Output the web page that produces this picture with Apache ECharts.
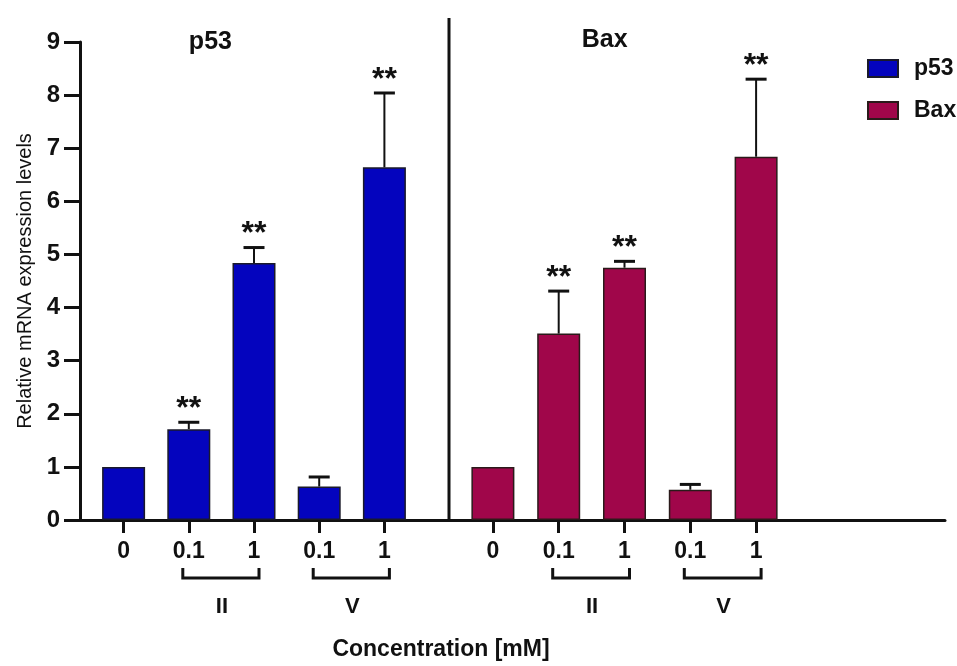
<!DOCTYPE html>
<html>
<head>
<meta charset="utf-8">
<script src="https://cdn.jsdelivr.net/npm/echarts@6/dist/echarts.min.js"></script>
<style>
  html, body { margin: 0; padding: 0; background: #ffffff; }
  #chart { width: 957px; height: 666px; }
</style>
</head>
<body>
<div id="chart"></div>
<script>
// ---- data ----
const categories = ['0', '0.1', '1', '0.1', '1'];
const p53Mean = [1.00, 1.71, 4.84, 0.63, 6.64];
const p53Err  = [0.00, 0.13, 0.29, 0.18, 1.40];
const p53Sig  = ['', '**', '**', '', '**'];
const baxMean = [1.00, 3.51, 4.75, 0.57, 6.84];
const baxErr  = [0.00, 0.80, 0.12, 0.10, 1.46];
const baxSig  = ['', '**', '**', '', '**'];
const groups  = [
  { from: 1, to: 2, label: 'II' },
  { from: 3, to: 4, label: 'V' }
];
const panelTitles = ['p53', 'Bax'];
const yTitle = 'Relative mRNA expression levels';
const xTitle = 'Concentration [mM]';
const yMin = 0, yMax = 9, yStep = 1;

const FONT = 'Liberation Sans, Arial, Helvetica, sans-serif';
const BLUE = '#0404BE';
const RED = '#A0064A';
const INK = '#111111';

const chart = echarts.init(document.getElementById('chart'), null, { renderer: 'canvas' });

function errSeries(name, axisIdx, mean, err, sig) {
  return {
    name: name,
    type: 'custom',
    xAxisIndex: axisIdx,
    yAxisIndex: axisIdx,
    z: 5,
    encode: { x: 0, y: 1 },
    data: mean.map((m, i) => [i, m, err[i]]),
    renderItem: function (params, api) {
      const i = api.value(0), m = api.value(1), e = api.value(2);
      const base = api.coord([i, m]);
      const top = api.coord([i, m + e]);
      const children = [];
      if (e > 0) {
        children.push({
          type: 'line',
          shape: { x1: base[0], y1: base[1], x2: top[0], y2: top[1] },
          style: { stroke: INK, lineWidth: 2 }
        });
        children.push({
          type: 'line',
          shape: { x1: top[0] - 10.5, y1: top[1], x2: top[0] + 10.5, y2: top[1] },
          style: { stroke: INK, lineWidth: 3 }
        });
      }
      const s = sig[params.dataIndex];
      if (s) {
        children.push({
          type: 'text',
          x: top[0],
          y: top[1] - 13,
          style: {
            text: s, fill: INK, align: 'center', verticalAlign: 'middle',
            font: 'bold 32px ' + FONT
          }
        });
      }
      return { type: 'group', children: children };
    }
  };
}

const catAxis = (gridIndex) => ({
  type: 'category',
  gridIndex: gridIndex,
  data: categories,
  axisLine: { show: false },
  axisTick: { show: true, alignWithLabel: true, length: 13, lineStyle: { color: INK, width: 3 } },
  axisLabel: { color: INK, fontFamily: FONT, fontWeight: 'bold', fontSize: 23, margin: 20 },
  splitLine: { show: false }
});

const hiddenY = (gridIndex) => ({
  type: 'value', gridIndex: gridIndex, min: yMin, max: yMax, interval: yStep, show: false
});

const option = {
  backgroundColor: '#ffffff',
  animation: false,
  grid: [
    { left: 80, top: 42, right: 12, bottom: 146 },
    { left: 91, top: 42, width: 326, bottom: 146 },
    { left: 460, top: 42, width: 329, bottom: 146 }
  ],
  xAxis: [
    {
      type: 'value', gridIndex: 0, min: 0, max: 1,
      axisLine: { show: true, onZero: false, lineStyle: { color: INK, width: 3 } },
      axisTick: { show: false }, axisLabel: { show: false }, splitLine: { show: false }
    },
    catAxis(1),
    catAxis(2)
  ],
  yAxis: [
    {
      type: 'value', gridIndex: 0, min: yMin, max: yMax, interval: yStep,
      name: yTitle, nameLocation: 'middle', nameGap: 42, nameRotate: 90,
      nameTextStyle: { color: INK, fontFamily: FONT, fontSize: 20 },
      axisLine: { show: true, lineStyle: { color: INK, width: 3 } },
      axisTick: { show: true, length: 16, lineStyle: { color: INK, width: 3 } },
      axisLabel: { color: INK, fontFamily: FONT, fontWeight: 'bold', fontSize: 24, margin: 20 },
      splitLine: { show: false }
    },
    hiddenY(1),
    hiddenY(2)
  ],
  legend: {
    orient: 'vertical',
    left: 862, top: 52,
    itemWidth: 30, itemHeight: 17, itemGap: 19,
    icon: 'rect',
    data: ['p53', 'Bax'],
    textStyle: { color: INK, fontFamily: FONT, fontWeight: 'bold', fontSize: 23, padding: [0, 0, 0, 11] }
  },
  series: [
    {
      name: 'p53', type: 'bar', xAxisIndex: 1, yAxisIndex: 1, barWidth: 43,
      itemStyle: { color: BLUE, borderColor: '#1a1a2a', borderWidth: 1.5 },
      data: p53Mean
    },
    errSeries('p53 error', 1, p53Mean, p53Err, p53Sig),
    {
      name: 'Bax', type: 'bar', xAxisIndex: 2, yAxisIndex: 2, barWidth: 43,
      itemStyle: { color: RED, borderColor: '#2a1a1a', borderWidth: 1.5 },
      data: baxMean
    },
    errSeries('Bax error', 2, baxMean, baxErr, baxSig)
  ]
};

chart.setOption(option);

// ---- annotations: divider, panel titles, group brackets, x title ----
function px(axisIdx, i) { return chart.convertToPixel({ xAxisIndex: axisIdx }, i); }
const axisY = chart.convertToPixel({ yAxisIndex: 0 }, yMin);
const graphics = [];

graphics.push({
  type: 'line', shape: { x1: 449, y1: 18, x2: 449, y2: axisY }, z: 10,
  style: { stroke: INK, lineWidth: 3 }
});

[1, 2].forEach((axisIdx, k) => {
  const mid = (px(axisIdx, 1) + px(axisIdx, 2)) / 2;
  graphics.push({
    type: 'text', x: k === 0 ? mid - 11 : mid + 13, y: k === 0 ? 42 : 40,
    style: { text: panelTitles[k], fill: INK, font: 'bold 25px ' + FONT, align: 'center', verticalAlign: 'middle' }
  });
  groups.forEach(g => {
    const x0 = px(axisIdx, g.from) - 6;
    const x1 = px(axisIdx, g.to) + 5;
    graphics.push({
      type: 'polyline',
      shape: { points: [[x0, axisY + 48], [x0, axisY + 58], [x1, axisY + 58], [x1, axisY + 48]] },
      style: { stroke: INK, lineWidth: 3, fill: null }
    });
    graphics.push({
      type: 'text', x: (x0 + x1) / 2 + 1, y: axisY + 87,
      style: { text: g.label, fill: INK, font: 'bold 22px ' + FONT, align: 'center', verticalAlign: 'middle' }
    });
  });
});

graphics.push({
  type: 'text', x: 441, y: axisY + 130,
  style: { text: xTitle, fill: INK, font: 'bold 23px ' + FONT, align: 'center', verticalAlign: 'middle' }
});

chart.setOption({ graphic: graphics });
</script>
</body>
</html>
